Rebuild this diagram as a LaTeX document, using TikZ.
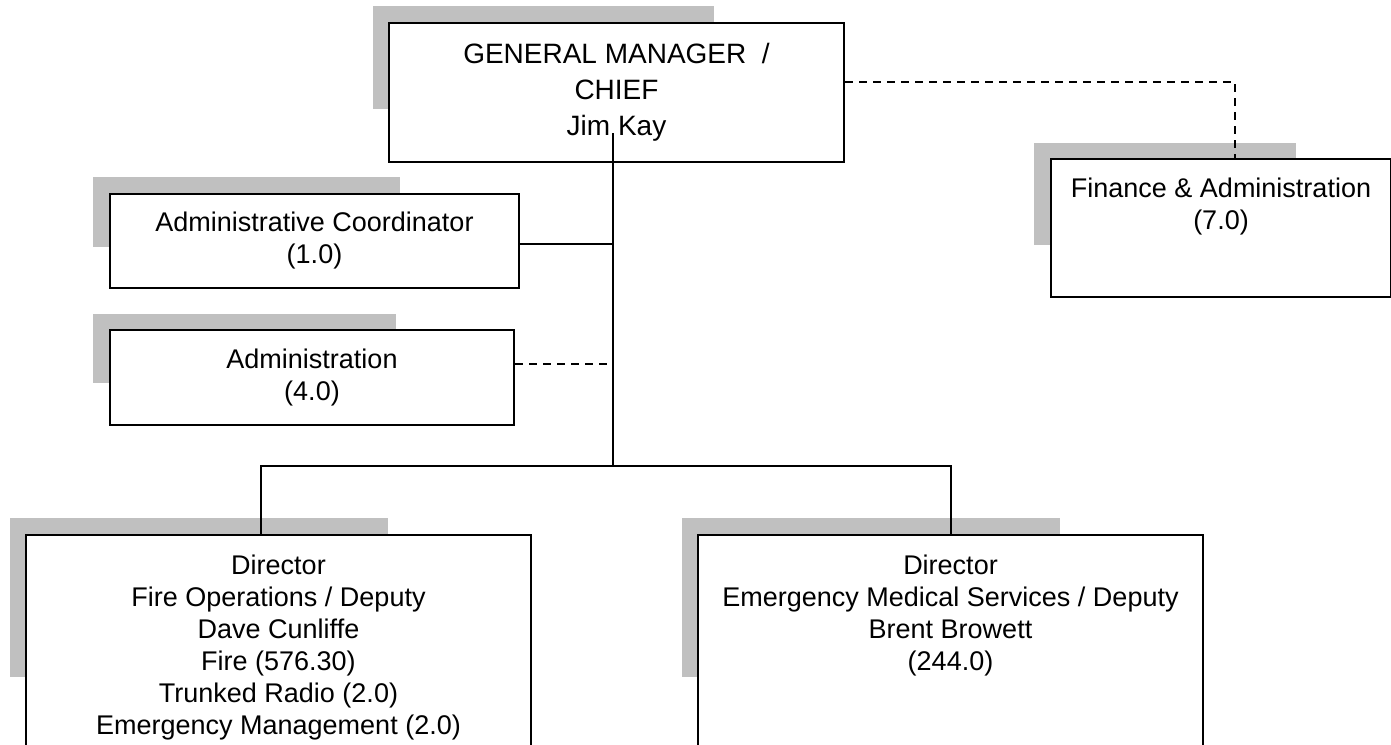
\documentclass[tikz,border=0pt]{standalone}
\usepackage{fontspec}
\setmainfont{Liberation Sans}
\usetikzlibrary{positioning}
\usepackage{xcolor}
\definecolor{shadowgray}{RGB}{192,192,192}
\newcommand{\px}{0.5pt}
\newcommand{\orgshade}[4]{\fill[shadowgray] (#1,#2) rectangle ++(#3,#4);}
\tikzset{
  boxframe/.style={draw, fill=white, line width=1pt, anchor=north west, inner sep=0pt,
    align=center, font=\fontsize{13.5}{16}\selectfont},
  boxtext/.style={align=center, inner sep=0pt, font=\fontsize{13.5}{16}\selectfont},
  link/.style={line width=1pt},
  dotlink/.style={link, dash pattern=on 4pt off 3pt},
}

\begin{document}
\begin{tikzpicture}[x=\px, y=-\px]

    \useasboundingbox (0,0) rectangle (1391,744);

    % shadows
    \orgshade{373}{6}{341}{103}
    \orgshade{93}{177}{307}{70}
    \orgshade{93}{314}{303}{69}
    \orgshade{1034}{143}{262}{102}
    \orgshade{10}{518}{378}{159}
    \orgshade{682}{518}{378}{159}

    % boxes
    \node[boxframe, minimum width=455*\px, minimum height=139*\px,
      font=\fontsize{14}{18}\selectfont] (gm) at (388,22) {GENERAL MANAGER~~/\\CHIEF\\Jim Kay};
    \node[boxframe, minimum width=409*\px, minimum height=94*\px] (ac) at (109,193) {Administrative Coordinator\\(1.0)};
    \node[boxframe, minimum width=404*\px, minimum height=95*\px] (adm) at (109,329) {Administration\\(4.0)};

    \node[boxframe, minimum width=340*\px, minimum height=138*\px] (fin) at (1050,158) {};
    \node[boxtext, below=10pt of fin.north] (fintxt) {Finance \& Administration\\(7.0)};

    \node[boxframe, minimum width=505*\px, minimum height=260*\px] (fire) at (25,534) {};
    \node[boxtext, below=10.5pt of fire.north] (firetxt) {Director\\Fire Operations / Deputy\\Dave Cunliffe\\Fire (576.30)\\Trunked Radio (2.0)\\Emergency Management (2.0)};

    \node[boxframe, minimum width=505*\px, minimum height=260*\px] (ems) at (697,534) {};
    \node[boxtext, below=10.5pt of ems.north] (emstxt) {Director\\Emergency Medical Services / Deputy\\Brent Browett\\(244.0)};

    % lines
    \coordinate (trunk) at (613,133);
    \coordinate (hub) at (613,466);
    \coordinate (actap) at (613,244);
    \coordinate (admtap) at (613,364);
    \coordinate (finbend) at (1235,82);
    \coordinate (firedrop) at (261,466);

    \draw[link] (trunk) -- (hub);
    \draw[link] (ac.east |- actap) -- (actap);
    \draw[dotlink] (adm.east |- admtap) -- (admtap);
    \draw[dotlink] (gm.east |- finbend) -- (finbend) -- (finbend |- fin.north);
    \draw[link] (fire.north -| firedrop) |- (hub) -| (ems.north);

\end{tikzpicture}
\end{document}
